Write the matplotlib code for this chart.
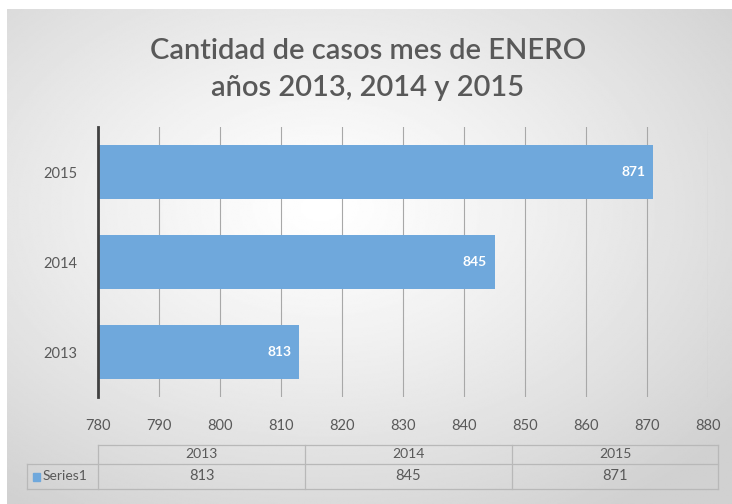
import numpy as np
import matplotlib.pyplot as plt
from matplotlib.patches import Rectangle

years = ['2013', '2014', '2015']
values = [813, 845, 871]
series_name = 'Series1'
title = 'Cantidad de casos mes de ENERO\naños 2013, 2014 y 2015'

W, H = 732, 504
bar_color = '#6fa8dc'
text_color = '#595959'

plt.rcParams['font.family'] = ['Lato', 'DejaVu Sans']

fig = plt.figure(figsize=(W / 100, H / 100), dpi=100, facecolor='white')

# fondo con degradado radial
bg = fig.add_axes([7 / W, 0, 1 - 7 / W, (H - 9) / H])
yy, xx = np.mgrid[0:300, 0:440]
r = np.sqrt(((xx - 190) / 440) ** 2 + ((yy - 120) / 300) ** 2)
r = np.clip(r / 0.72, 0, 1)
img = 1.0 - 0.18 * r ** 1.2
bg.imshow(img, cmap='gray', vmin=0, vmax=1, aspect='auto', interpolation='bilinear')
bg.axis('off')

ax = fig.add_axes([98 / W, 107 / H, 610 / W, 270 / H])
ax.patch.set_alpha(0)

pos = np.arange(len(years))
ax.barh(pos, values, height=0.59, color=bar_color, zorder=2)
ax.set_xlim(780, 880)
ax.set_ylim(-0.5, 2.5)
ax.set_xticks(np.arange(780, 881, 10))
ax.set_yticks(pos)
ax.set_yticklabels(years)
ax.tick_params(axis='both', length=0, labelsize=10.5, colors=text_color)
ax.tick_params(axis='x', pad=16)
ax.tick_params(axis='y', pad=15)
ax.grid(axis='x', color='#a8a8a8', linewidth=0.8, zorder=1)
for s in ['top', 'right', 'bottom']:
    ax.spines[s].set_visible(False)
ax.spines['left'].set_color('#404040')
ax.spines['left'].set_linewidth(2)
ax.spines['left'].set_zorder(3)

for p, v in zip(pos, values):
    ax.text(v - 1.3, p, str(v), ha='right', va='center', color='white',
            fontsize=10, fontweight='bold', zorder=4)

ax.set_title(title, fontsize=21, color=text_color, pad=22, linespacing=1.55,
             fontweight='semibold', x=(368 - 98) / 610)


# tabla de datos debajo del eje
def fx(px):
    return (px - 98) / 610


def fy(py):
    return (397 - py) / 270


line_kw = dict(color='#b8b8b8', linewidth=0.9, transform=ax.transAxes, clip_on=False)
col_edges = [98, 305, 512, 718]
top, mid, bot = 445, 464, 489
ax.plot([fx(98), fx(718)], [fy(top), fy(top)], **line_kw)
ax.plot([fx(27), fx(718)], [fy(mid), fy(mid)], **line_kw)
ax.plot([fx(27), fx(718)], [fy(bot), fy(bot)], **line_kw)
ax.plot([fx(27), fx(27)], [fy(mid), fy(bot)], **line_kw)
for x in col_edges:
    ax.plot([fx(x), fx(x)], [fy(top), fy(bot)], **line_kw)
for i, (yr, v) in enumerate(zip(years, values)):
    cx = (col_edges[i] + col_edges[i + 1]) / 2
    ax.text(fx(cx), fy((top + mid) / 2), yr, ha='center', va='center',
            fontsize=10, color=text_color, transform=ax.transAxes)
    ax.text(fx(cx), fy((mid + bot) / 2), str(v), ha='center', va='center',
            fontsize=10.5, color=text_color, transform=ax.transAxes)
ax.add_patch(Rectangle((fx(33), fy(481)), 7 / 610, 8 / 270, color=bar_color,
                       transform=ax.transAxes, clip_on=False))
ax.text(fx(43), fy((mid + bot) / 2), series_name, ha='left', va='center',
        fontsize=10, color=text_color, transform=ax.transAxes)

fig.savefig('out.png', dpi=100, facecolor=fig.get_facecolor())
